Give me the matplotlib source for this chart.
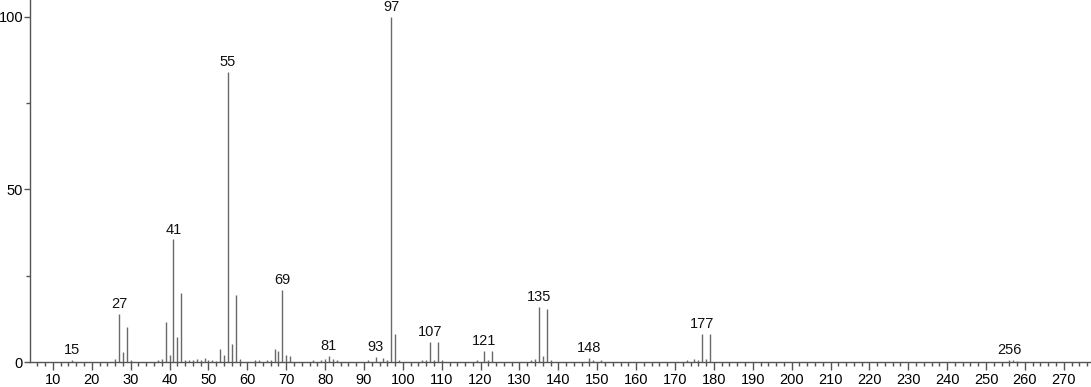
import matplotlib
matplotlib.use("Agg")
import matplotlib.pyplot as plt
from matplotlib.ticker import MultipleLocator

mz = [15, 26, 27, 28, 29, 30, 37, 38, 39, 40, 41, 42, 43, 44, 45, 46, 47, 48,
      49, 50, 51, 52, 53, 54, 55, 56, 57, 58, 62, 63, 65, 66, 67, 68, 69, 70,
      71, 77, 79, 80, 81, 82, 83, 91, 93, 95, 96, 97, 98, 99, 105, 106, 107,
      108, 109, 110, 119, 121, 122, 123, 133, 134, 135, 136, 137, 138, 148,
      149, 151, 173, 175, 176, 177, 178, 179, 256, 257, 258]
intensity = [0.5, 1.0, 14.0, 3.0, 10.0, 0.6, 0.5, 0.8, 11.6, 2.0, 35.5, 7.3,
             20.0, 0.6, 0.5, 0.6, 0.8, 0.7, 1.3, 0.5, 0.7, 0.4, 3.8, 2.0, 84.0,
             5.2, 19.3, 0.8, 0.6, 0.7, 0.5, 0.6, 3.8, 3.2, 21.0, 2.0, 1.7, 0.5,
             0.6, 1.0, 1.7, 1.0, 0.7, 0.5, 1.5, 1.3, 0.5, 100.0, 8.2, 0.6, 0.5,
             0.7, 5.8, 0.5, 5.8, 0.5, 0.5, 3.3, 0.6, 3.3, 0.5, 1.0, 16.0, 1.8,
             15.3, 0.6, 1.1, 0.5, 0.5, 0.5, 0.8, 0.5, 8.1, 0.8, 8.1, 0.7, 0.5,
             0.4]
labeled = [15, 27, 41, 55, 69, 81, 93, 97, 107, 121, 135, 148, 177, 256]

plt.rcParams['font.family'] = ['Liberation Sans', 'DejaVu Sans']
FS = 10.5

fig = plt.figure(figsize=(10.91, 3.87), dpi=100)
ax = fig.add_axes([30 / 1091, 25 / 387, 1 - 30 / 1091, 1 - 25 / 387])

ax.vlines(mz, 0, intensity, colors='#6a6a6a', linewidth=1.0)

for m in labeled:
    h = intensity[mz.index(m)]
    ax.annotate(str(m), (m, h), xytext=(0, 2), textcoords='offset points',
                ha='center', va='bottom', fontsize=FS, color='#111111')

ax.set_xlim(4.1, 277)
ax.set_ylim(0, 104.9)

ax.xaxis.set_major_locator(MultipleLocator(10))
ax.xaxis.set_minor_locator(MultipleLocator(2))
ax.yaxis.set_major_locator(MultipleLocator(50))
ax.yaxis.set_minor_locator(MultipleLocator(25))
ax.set_xticks(range(10, 271, 10))

for s in ['top', 'right']:
    ax.spines[s].set_visible(False)
for s in ['left', 'bottom']:
    ax.spines[s].set_color('#555555')
    ax.spines[s].set_linewidth(1.0)

ax.tick_params(axis='x', which='major', direction='out', length=6,
               width=1.0, color='#555555', labelsize=FS, pad=2)
ax.tick_params(axis='y', which='major', direction='out', length=4,
               width=1.0, color='#555555', labelsize=FS, pad=1)
ax.tick_params(axis='both', which='minor', direction='out', length=3,
               width=1.0, color='#555555')
ax.patch.set_alpha(0)

fig.savefig('out.png', dpi=100)
